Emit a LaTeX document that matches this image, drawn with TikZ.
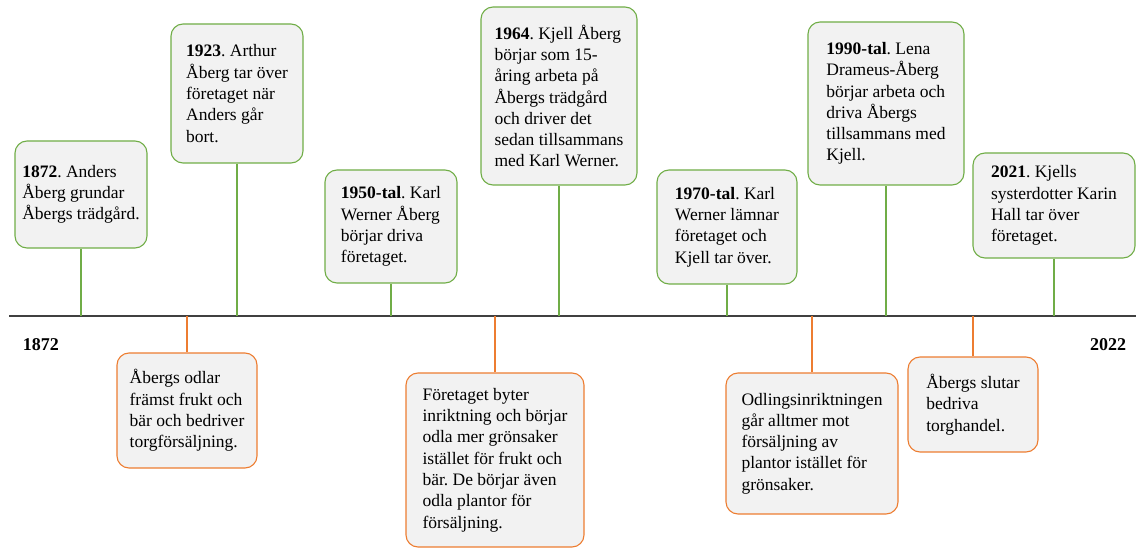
\documentclass[tikz,border=0pt]{standalone}
\usepackage{fontspec}
\setmainfont{Liberation Serif}
\frenchspacing

\definecolor{upgreen}{HTML}{70AD47}
\definecolor{downorange}{HTML}{ED7D31}
\definecolor{boxgray}{HTML}{F2F2F2}
\definecolor{axisgray}{HTML}{404040}

\tikzset{
  event/.style={rounded corners=12pt, fill=boxgray, line width=1.1pt,
    align=left, inner sep=0pt, font=\fontsize{17.5}{21.3}\selectfont},
  upevent/.style={event, draw=upgreen},
  downevent/.style={event, draw=downorange},
  upline/.style={draw=upgreen, line width=1.2pt},
  downline/.style={draw=downorange, line width=1.2pt},
  endyear/.style={font=\fontsize{18}{20}\selectfont\bfseries},
}

\begin{document}
\begin{tikzpicture}[x=1pt,y=-1pt]

  \useasboundingbox (0,0) rectangle (1136,548);

  %% time axis
  \coordinate (axis) at (0,316);
  \coordinate (axisstart) at (9,316);
  \coordinate (axisend) at (1136,316);
  \draw[axisgray, line width=1.8pt] (axisstart) -- (axisend);

  \node[endyear] (ystart) at (41,345) {1872};
  \node[endyear] (yend) at (1108,345) {2022};

  %% events above the axis
  \node[upevent, minimum width=132pt, minimum height=107pt] (e1872) at (81,194.5)
  {\textbf{1872}. Anders\\Åberg grundar\\Åbergs trädgård.};
  \node[upevent, minimum width=132pt, minimum height=139pt] (e1923) at (237,93.5)
  {\textbf{1923}. Arthur\\Åberg tar över\\företaget när\\Anders går\\bort.};
  \node[upevent, minimum width=132pt, minimum height=113pt] (e1950) at (391,226.5)
  {\textbf{1950-tal}. Karl\\Werner Åberg\\börjar driva\\företaget.};
  \node[upevent, minimum width=156pt, minimum height=178pt] (e1964) at (559,96)
  {\textbf{1964}. Kjell Åberg\\börjar som 15-\\åring arbeta på\\Åbergs trädgård\\och driver det\\sedan tillsammans\\med Karl Werner.};
  \node[upevent, minimum width=140pt, minimum height=114pt] (e1970) at (727,227)
  {\textbf{1970-tal}. Karl\\Werner lämnar\\företaget och\\Kjell tar över.};
  \node[upevent, minimum width=156pt, minimum height=163pt] (e1990) at (886,103.5)
  {\textbf{1990-tal}. Lena\\Drameus-Åberg\\börjar arbeta och\\driva Åbergs\\tillsammans med\\Kjell.};
  \node[upevent, minimum width=162pt, minimum height=105pt] (e2021) at (1054,205.5)
  {\textbf{2021}. Kjells\\systerdotter Karin\\Hall tar över\\företaget.};

  %% events below the axis
  \node[downevent, minimum width=140pt, minimum height=115pt] (torg) at (187,410.5)
  {Åbergs odlar\\främst frukt och\\bär och bedriver\\torgförsäljning.};
  \node[downevent, minimum width=178pt, minimum height=174pt] (byter) at (495,460)
  {Företaget byter\\inriktning och börjar\\odla mer grönsaker\\istället för frukt och\\bär. De börjar även\\odla plantor för\\försäljning.};
  \node[downevent, minimum width=172pt, minimum height=141pt] (plantor) at (812,443.5)
  {Odlingsinriktningen\\går alltmer mot\\försäljning av\\plantor istället för\\grönsaker.};
  \node[downevent, minimum width=130pt, minimum height=95pt] (slutar) at (973,404.5)
  {Åbergs slutar\\bedriva\\torghandel.};

  %% event to axis
  \draw[upline] (e1872) -- (e1872 |- axis);
  \draw[upline] (e1923) -- (e1923 |- axis);
  \draw[upline] (e1950) -- (e1950 |- axis);
  \draw[upline] (e1964) -- (e1964 |- axis);
  \draw[upline] (e1970) -- (e1970 |- axis);
  \draw[upline] (e1990) -- (e1990 |- axis);
  \draw[upline] (e2021) -- (e2021 |- axis);

  \draw[downline] (torg) -- (torg |- axis);
  \draw[downline] (byter) -- (byter |- axis);
  \draw[downline] (plantor) -- (plantor |- axis);
  \draw[downline] (slutar) -- (slutar |- axis);

\end{tikzpicture}
\end{document}
